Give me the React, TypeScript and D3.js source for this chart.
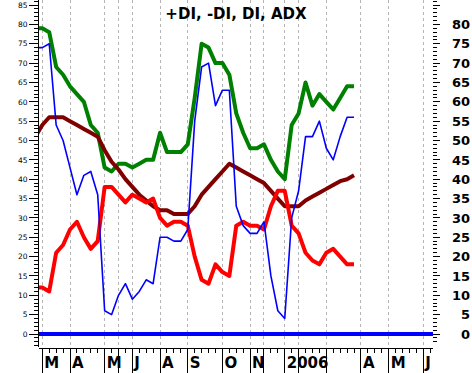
import React from "react"
import * as d3 from "d3"

// weekly values, first point (index -1) sits just left of the plot and is clipped
const plusDI = [79, 79, 78, 69, 67, 64, 62, 60, 54, 52, 43, 42, 44, 44, 43, 44, 45, 45, 52, 47, 47, 47, 49, 61, 75, 74, 70, 70, 67, 57, 52, 48, 48, 49, 45, 42, 40, 54, 57, 65, 59, 62, 60, 58, 61, 64, 64]
const dI = [74, 74, 75, 54, 50, 43, 36, 41, 42, 36, 6, 5, 10, 13, 9, 11, 14, 13, 25, 25, 24, 24, 27, 55, 69, 70, 59, 63, 63, 33, 28, 26, 26, 29, 15, 6, 4, 30, 37, 51, 51, 55, 48, 45, 51, 56, 56]
const minusDI = [12, 12, 11, 21, 23, 27, 29, 25, 22, 24, 38, 38, 36, 34, 36, 35, 34, 35, 30, 28, 29, 29, 28, 20, 14, 13, 18, 16, 15, 28, 29, 28, 28, 27, 33, 37, 37, 28, 26, 21, 19, 18, 21, 22, 20, 18, 18]
const adx = [51, 54, 56, 56, 56, 55, 54, 53, 52, 51, 47.5, 44.5, 42.5, 40, 38, 36, 34.5, 33, 32, 32, 31, 31, 31, 33, 36, 38, 40, 42, 44, 43, 42, 41, 40, 39, 37, 35, 33, 33, 33, 34.5, 35.5, 36.5, 37.5, 38.5, 39.5, 40, 41]

// month boundaries on the week axis and their labels (blank where the chart hides them)
const monthIdx = [0, 4, 9, 11, 13, 17, 21, 26, 30, 32, 35, 37, 41, 46, 50, 55]
const monthLabel = ["M", "A", "M", "", "J", "A", "S", "O", "N", "", "2006", "", "", "A", "M", "J"]
const lastWeek = 56

const W = 472
const H = 373
const left = 39
const right = 433
const bottom = 348

const App = () => {
    const x = d3.scaleLinear().domain([0, 55]).range([42.3, 423.3])
    const y = d3.scaleLinear().domain([0, 85]).range([334, 5.05])

    const line = d3
        .line<number>()
        .x((d, i) => x(i - 1))
        .y(d => y(d))

    const major = d3.range(0, 86, 5)
    const minor = d3.range(-3, 87, 1)
    const weeks = d3.range(0, lastWeek + 1)

    const series = [
        { values: plusDI, color: "#008000", width: 4 },
        { values: adx, color: "#800000", width: 4 },
        { values: minusDI, color: "#ff0000", width: 4 },
        { values: dI, color: "#0000ff", width: 1.6 },
    ]

    return (
        <svg width={W} height={H} style={{ position: "absolute", left: 0, top: 0, background: "#fff" }}>
            <defs>
                <clipPath id="plot">
                    <rect x={left} y={0} width={right - left} height={bottom} />
                </clipPath>
            </defs>

            {/* month grid */}
            {monthIdx.map(m => (
                <line key={"g" + m} x1={x(m)} x2={x(m)} y1={0} y2={bottom}
                    stroke="#b4b4b4" strokeDasharray="3,3" shapeRendering="crispEdges" />
            ))}

            <text x={(left + right) / 2} y={19} textAnchor="middle"
                fontFamily="DejaVu Sans" fontWeight="bold" fontSize={15}>+DI, -DI, DI, ADX</text>

            {/* zero line */}
            <line x1={left} x2={right} y1={y(0)} y2={y(0)} stroke="#0000ff" strokeWidth={4} />

            <g clipPath="url(#plot)" fill="none" strokeLinejoin="round">
                {series.map((s, k) => (
                    <path key={k} d={line(s.values) || ""} stroke={s.color} strokeWidth={s.width} />
                ))}
            </g>

            {/* left axis */}
            <g shapeRendering="crispEdges" stroke="#000">
                <line x1={38.5} x2={38.5} y1={0} y2={bottom - 1} />
                {minor.map(v => (
                    <line key={"lm" + v} x1={34} x2={38.5} y1={y(v)} y2={y(v)} />
                ))}
                {major.map(v => (
                    <line key={"lM" + v} x1={29} x2={38.5} y1={y(v)} y2={y(v)} />
                ))}
            </g>
            {major.map(v => (
                <text key={"lt" + v} x={27.5} y={y(v)} dy="0.36em" textAnchor="end"
                    fontFamily="DejaVu Sans" fontSize={7.5}>{v}</text>
            ))}

            {/* right axis */}
            <g shapeRendering="crispEdges" stroke="#000">
                {minor.filter(v => v >= -2).map(v => (
                    <line key={"rm" + v} x1={433} x2={437} y1={y(v)} y2={y(v)} />
                ))}
                {major.map(v => (
                    <line key={"rM" + v} x1={433} x2={440} y1={y(v)} y2={y(v)} />
                ))}
            </g>
            {major.filter(v => v <= 80).map(v => (
                <text key={"rt" + v} x={470} y={y(v)} dy="0.36em" textAnchor="end"
                    fontFamily="DejaVu Sans" fontWeight="bold" fontSize={13}>{v}</text>
            ))}

            {/* bottom axis */}
            <g shapeRendering="crispEdges" stroke="#000">
                <line x1={left} x2={right} y1={bottom} y2={bottom} />
                {weeks.map(w => (
                    <line key={"w" + w} x1={x(w)} x2={x(w)} y1={bottom}
                        y2={monthIdx.includes(w) ? H : bottom + 5} />
                ))}
            </g>
            {monthIdx.map((m, k) => (
                <text key={"ml" + m} x={x(m) + 2} y={368}
                    fontFamily="DejaVu Sans" fontWeight="bold" fontSize={15}>{monthLabel[k]}</text>
            ))}
        </svg>
    )
}

export default App
